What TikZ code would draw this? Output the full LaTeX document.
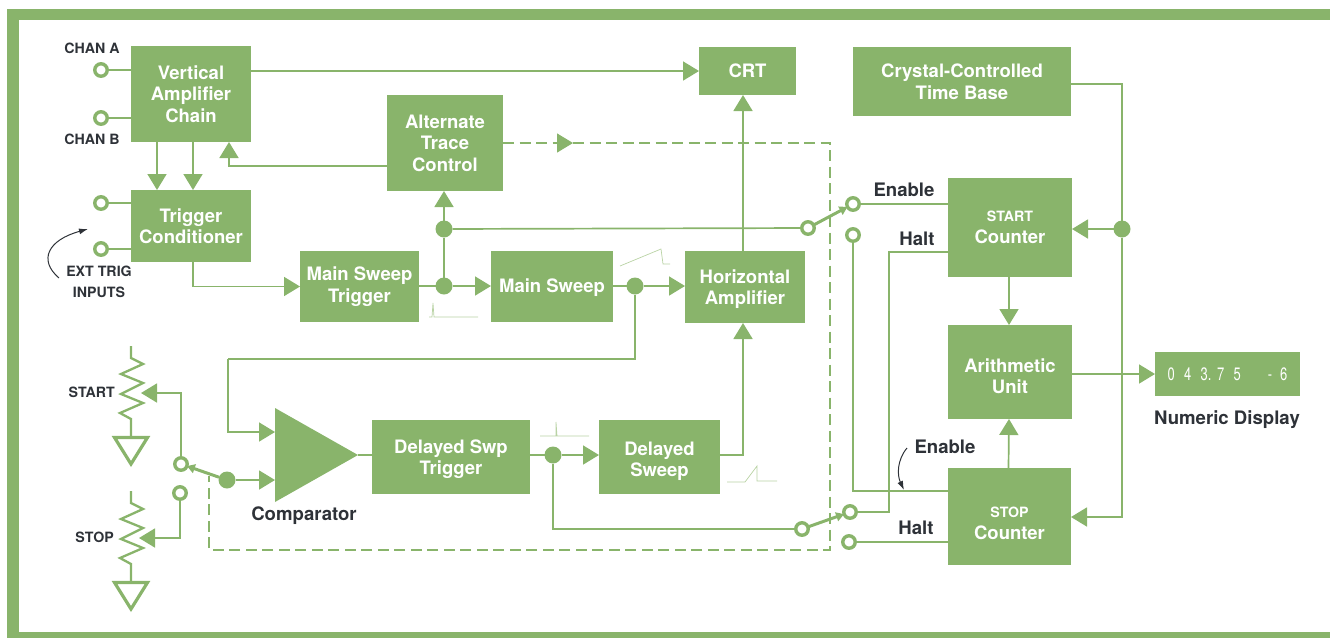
\documentclass[tikz,border=0pt]{standalone}
\usepackage{fontspec}
\setmainfont{TeX Gyre Heros}
\newfontfamily\ledfont[FakeStretch=0.72]{TeX Gyre Heros}
\usetikzlibrary{arrows.meta}
\definecolor{grn}{HTML}{89B46B}
\definecolor{pale}{HTML}{B9D3A4}
\definecolor{ink}{HTML}{2E3238}
\newcommand{\dn}[1]{\rule{0pt}{#1pt}}
\tikzset{
  block/.style={rectangle,fill=grn,text=white,align=center,inner sep=0pt,outer sep=0pt,
    font=\fontsize{18.5}{21.5}\selectfont\bfseries},
  term/.style={circle,draw=grn,line width=3.4pt,fill=white,minimum size=12.5pt,inner sep=0pt,outer sep=0pt},
  dot/.style={circle,fill=grn,minimum size=17pt,inner sep=0pt,outer sep=0pt},
  wire/.style={draw=grn,line width=1.7pt},
  arr/.style={wire,-{Triangle[length=16pt,width=19pt]}},
  arm/.style={draw=grn,line width=3pt,-{Triangle[length=8pt,width=9pt]}},
  dashwire/.style={draw=grn,line width=1.3pt,dash pattern=on 11pt off 5.5pt},
  gnd/.style={draw=grn,line width=3.2pt,fill=white,miter limit=3},
  res/.style={draw=grn,line width=2.3pt,line join=miter},
  wave/.style={draw=pale,line width=.7pt},
  note/.style={draw=ink,line width=1pt,-{Latex[length=9pt,width=6pt]}},
  lbl/.style={text=ink,inner sep=0pt,font=\fontsize{18.6}{21}\selectfont\bfseries},
  tinylbl/.style={text=ink,inner sep=0pt,font=\fontsize{14.2}{17}\selectfont\bfseries}
}
\begin{document}
\begin{tikzpicture}[x=1pt,y=-1pt]
\useasboundingbox (0,0) rectangle (1330,638);
\fill[grn] (7,9) rectangle (1330,20);
\fill[grn] (7,9) rectangle (19,638);
\fill[grn] (7,632) rectangle (1330,638);

\node[block,minimum width=120pt,minimum height=96pt] (vamp) at (191,94) {Vertical\\Amplifier\\Chain};
\node[block,minimum width=120pt,minimum height=72pt] (trig) at (191,226) {Trigger\\Conditioner};
\node[block,minimum width=116pt,minimum height=96pt] (altctl) at (445,143) {Alternate\\Trace\\Control};
\node[block,minimum width=97pt,minimum height=48pt] (crt) at (747.5,71) {CRT};
\node[block,minimum width=218pt,minimum height=69pt] (xtal) at (962,81.5) {Crystal-Controlled\\Time Base};
\node[block,minimum width=119pt,minimum height=71pt] (mstrig) at (359.5,286.5) {Main Sweep\\Trigger};
\node[block,minimum width=122pt,minimum height=71pt] (mswp) at (552,286.5) {\dn{16}Main Sweep};
\node[block,minimum width=120pt,minimum height=72pt] (hamp) at (745,287) {\dn{18}Horizontal\\Amplifier};
\node[block,minimum width=158pt,minimum height=74pt] (dstrig) at (451,457) {\dn{18}Delayed Swp\\Trigger};
\node[block,minimum width=121pt,minimum height=74pt] (dswp) at (659.5,457) {\dn{22}Delayed\\Sweep};
\node[block,minimum width=124pt,minimum height=99pt] (startc) at (1010,227.5) {{\fontsize{14.2}{17}\selectfont START}\\Counter};
\node[block,minimum width=124pt,minimum height=94pt] (arith) at (1010,372) {\dn{22}Arithmetic\\Unit};
\node[block,minimum width=123pt,minimum height=97pt] (stopc) at (1009.5,516.5) {\dn{24}{\fontsize{14.2}{17}\selectfont STOP}\\Counter};
\node[block,minimum width=145pt,minimum height=44pt,font=\fontsize{18}{21}\ledfont] (numdisp) at (1227.5,374) {0\hspace{9.3pt}4\hspace{9.3pt}3.\hspace{5.5pt}7\hspace{9.3pt}5\hspace{27pt}-\hspace{8pt}6};

\fill[grn] (275,408) -- (358,455) -- (275,502) -- cycle;
\coordinate (compa) at (275,432);
\coordinate (compb) at (275,480);
\coordinate (compout) at (358,455);

\node[term] (chana) at (101,70) {};
\node[term] (chanb) at (101,118) {};
\node[term] (exta) at (101,203) {};
\node[term] (extb) at (101,249) {};
\node[term] (tstart) at (181,464) {};
\node[term] (tstop) at (180,493) {};
\node[term] (swa) at (808,228) {};
\node[term] (ena) at (853,204) {};
\node[term] (haa) at (853,235) {};
\node[term] (swb) at (802,529) {};
\node[term] (enb) at (850,512) {};
\node[term] (hab) at (849,542) {};

\node[dot] (dmst) at (444,286) {};
\node[dot] (dalt) at (444,229) {};
\node[dot] (dmsw) at (635,286) {};
\node[dot] (ddst) at (553,455) {};
\node[dot] (dcmp) at (227,480) {};
\node[dot] (dclk) at (1122,229) {};

\coordinate (hline) at (743,0);
\coordinate (haltx) at (889,0);
\coordinate (dashtip) at (573,143);
\coordinate (dashend) at (209,476);
\coordinate (wstart) at (141,393);
\coordinate (wstop) at (139,538);
\coordinate (fbk) at (228,359);

\draw[wire] (chana) -- (vamp.west |- chana);
\draw[wire] (chanb) -- (vamp.west |- chanb);
\draw[wire] (exta) -- (trig.west |- exta);
\draw[wire] (extb) -- (trig.west |- extb);
\draw[arr] ([yshift=23pt]vamp.east) -- (crt.west);
\draw[arr] ([xshift=-34pt]vamp.south) -- ([xshift=-34pt]trig.north);
\draw[arr] ([xshift=2pt]vamp.south) -- ([xshift=2pt]trig.north);
\draw[arr] ([yshift=-23pt]altctl.west) -| ([xshift=38pt]vamp.south);
\draw[arr] ([xshift=2pt]trig.south) |- (mstrig.west);
\draw[wire] (mstrig.east |- dmst) -- (dmst);
\draw[arr] (dmst) -- (mswp.west |- dmst);
\draw[wire] (dmst) -- (dalt);
\draw[arr] (dalt) -- (dalt |- altctl.south);
\draw[wire] (dalt) -- (swa);
\draw[wire] (mswp.east |- dmsw) -- (dmsw);
\draw[arr] (dmsw) -- (hamp.west |- dmsw);
\draw[wire] (dmsw) |- (fbk);
\draw[arr] (fbk) |- (compa);
\draw[wire] (compout) -- (dstrig.west |- compout);
\draw[wire] (dstrig.east |- ddst) -- (ddst);
\draw[arr] (ddst) -- (dswp.west |- ddst);
\draw[wire] (ddst) |- (swb);
\draw[arr] (dswp.east |- ddst) -| (hline |- hamp.south);
\draw[arr] (hline |- hamp.north) -- (hline |- crt.south);
\draw[arr] (dcmp) -- (compb);
\draw[arr] (tstart) |- (wstart);
\draw[arr] (tstop) |- (wstop);
\draw[arm] (dcmp) -- (tstart);
\draw[arm] (swa) -- (ena);
\draw[arm] (swb) -- (enb);

\draw[wire] (ena) -- (startc.west |- ena);
\draw[wire] (haa) |- (stopc.west |- 0,491);
\draw[wire] (startc.west |- 0,252) -| (haltx |- enb) -- (enb);
\draw[wire] (hab) -- (stopc.west |- hab);
\draw[wire] (xtal.east |- 0,84) -| (dclk);
\draw[arr] (dclk) -- (startc.east |- dclk);
\draw[arr] (dclk) |- (stopc.east |- 0,517);
\draw[arr] ([xshift=-1pt]startc.south) -- ([xshift=-1pt]arith.north);
\draw[arr] ([xshift=-1pt]stopc.north) -- ([xshift=-1pt]arith.south);
\draw[arr] (arith.east |- numdisp) -- (numdisp.west);

\draw[dashwire,-{Triangle[length=16pt,width=19pt]}] (altctl.east) -- (dashtip);
\draw[dashwire] (dashtip) -| (830,550) -| (dashend);

\draw[res] (131,346) -- (131,358) -- (143,364) -- (121,374) -- (143,383) -- (121,394) -- (143,403) -- (120,413) -- (131,419) -- (131,437);
\draw[gnd] (114.5,437.5) -- (147.5,437.5) -- (131,464) -- cycle;
\draw[res] (131,491) -- (131,503) -- (143,509) -- (121,519) -- (143,528) -- (121,539) -- (143,548) -- (120,558) -- (131,564) -- (131,582);
\draw[gnd] (114.5,582.5) -- (147.5,582.5) -- (131,609) -- cycle;

\draw[wave] (429,317) -- (432,317) -- (433,303) -- (434,317) -- (478,317);
\draw[wave] (620,266) -- (661,249) -- (663,264) -- (670,264);
\draw[wave] (540,436) -- (556,436) -- (556,422) -- (557,436) -- (589,436);
\draw[wave] (727,482) -- (745,482) -- (757,466) -- (757,481) -- (777,481);

\draw[note] (59,278) .. controls (38,260) and (48,240) .. (88,229);
\draw[note] (907,448) .. controls (897,460) and (897,475) .. (904,490);

\node[tinylbl] (lcha) at (92,48) {CHAN A};
\node[tinylbl] (lchb) at (92,139) {CHAN B};
\node[tinylbl] (lext) at (99,271) {EXT TRIG};
\node[tinylbl] (linp) at (99,292) {INPUTS};
\node[tinylbl,anchor=east] (lstart) at (115,392) {START};
\node[tinylbl,anchor=east] (lstop) at (114,537) {STOP};
\node[lbl] (lcomp) at (304,516) {Comparator};
\node[lbl] (lena) at (904,190) {Enable};
\node[lbl] (lhaa) at (917,239) {Halt};
\node[lbl] (lenb) at (945,447) {Enable};
\node[lbl] (lhab) at (916,528) {Halt};
\node[lbl] (lnum) at (1227,420) {Numeric Display};
\end{tikzpicture}
\end{document}
